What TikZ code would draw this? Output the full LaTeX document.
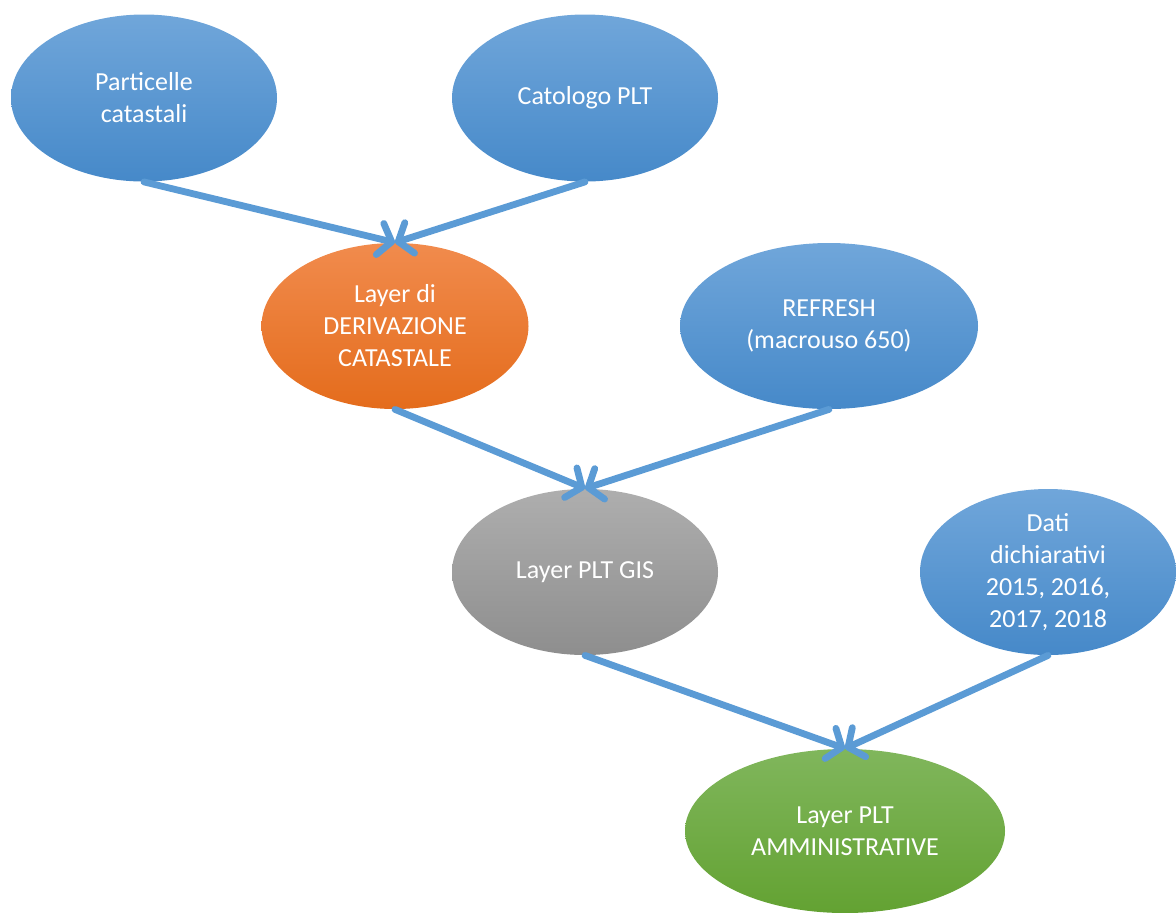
\documentclass[tikz,border=0pt]{standalone}
\usepackage{fontspec}
\setmainfont{Carlito}
\usetikzlibrary{arrows.meta,shapes.geometric}
\definecolor{bluSu}{RGB}{112,166,218}
\definecolor{bluGiu}{RGB}{70,137,201}
\definecolor{aranSu}{RGB}{241,139,77}
\definecolor{aranGiu}{RGB}{228,108,28}
\definecolor{grigSu}{RGB}{174,174,174}
\definecolor{grigGiu}{RGB}{142,142,142}
\definecolor{verdSu}{RGB}{128,182,92}
\definecolor{verdGiu}{RGB}{99,162,50}
\definecolor{frec}{RGB}{91,155,213}
\tikzset{
  bolla/.style={ellipse,inner sep=-10pt,align=center,text=white,
    font=\fontsize{13}{16}\selectfont},
  blu/.style={bolla,top color=bluSu,bottom color=bluGiu},
  arancio/.style={bolla,top color=aranSu,bottom color=aranGiu},
  grigio/.style={bolla,top color=grigSu,bottom color=grigGiu},
  verde/.style={bolla,top color=verdSu,bottom color=verdGiu},
  freccia/.style={draw=frec,line width=3.4pt,line cap=round,
    -{Straight Barb[length=6pt,width=16pt,round,line width=3.4pt]}}
}
\begin{document}
\begin{tikzpicture}[x=0.5pt,y=-0.5pt]
\useasboundingbox (0,0) rectangle (1176,912);
\node[blu,minimum width=133pt,minimum height=83.5pt](part) at (144,98){Particelle\\catastali};
\node[blu,minimum width=133pt,minimum height=83.5pt](catal) at (585,98){Catologo PLT};
\node[arancio,minimum width=133.5pt,minimum height=83pt](deriv) at (395,326){Layer di\\DERIVAZIONE\\CATASTALE};
\node[blu,minimum width=149pt,minimum height=83pt](refresh) at (829,326){REFRESH\\(macrouso 650)};
\node[grigio,minimum width=133pt,minimum height=83pt](gis) at (585,572){Layer PLT GIS};
\node[blu,minimum width=128pt,minimum height=83pt](dati) at (1048,572){Dati\\dichiarativi\\2015, 2016,\\2017, 2018};
\node[verde,minimum width=160pt,minimum height=82pt](ammin) at (845,831){Layer PLT\\AMMINISTRATIVE};
\draw[freccia](part.south)--(deriv.north);
\draw[freccia](catal.south)--(deriv.north);
\draw[freccia](deriv.south)--(gis.north);
\draw[freccia](refresh.south)--(gis.north);
\draw[freccia](gis.south)--(ammin.north);
\draw[freccia](dati.south)--(ammin.north);
\end{tikzpicture}
\end{document}
